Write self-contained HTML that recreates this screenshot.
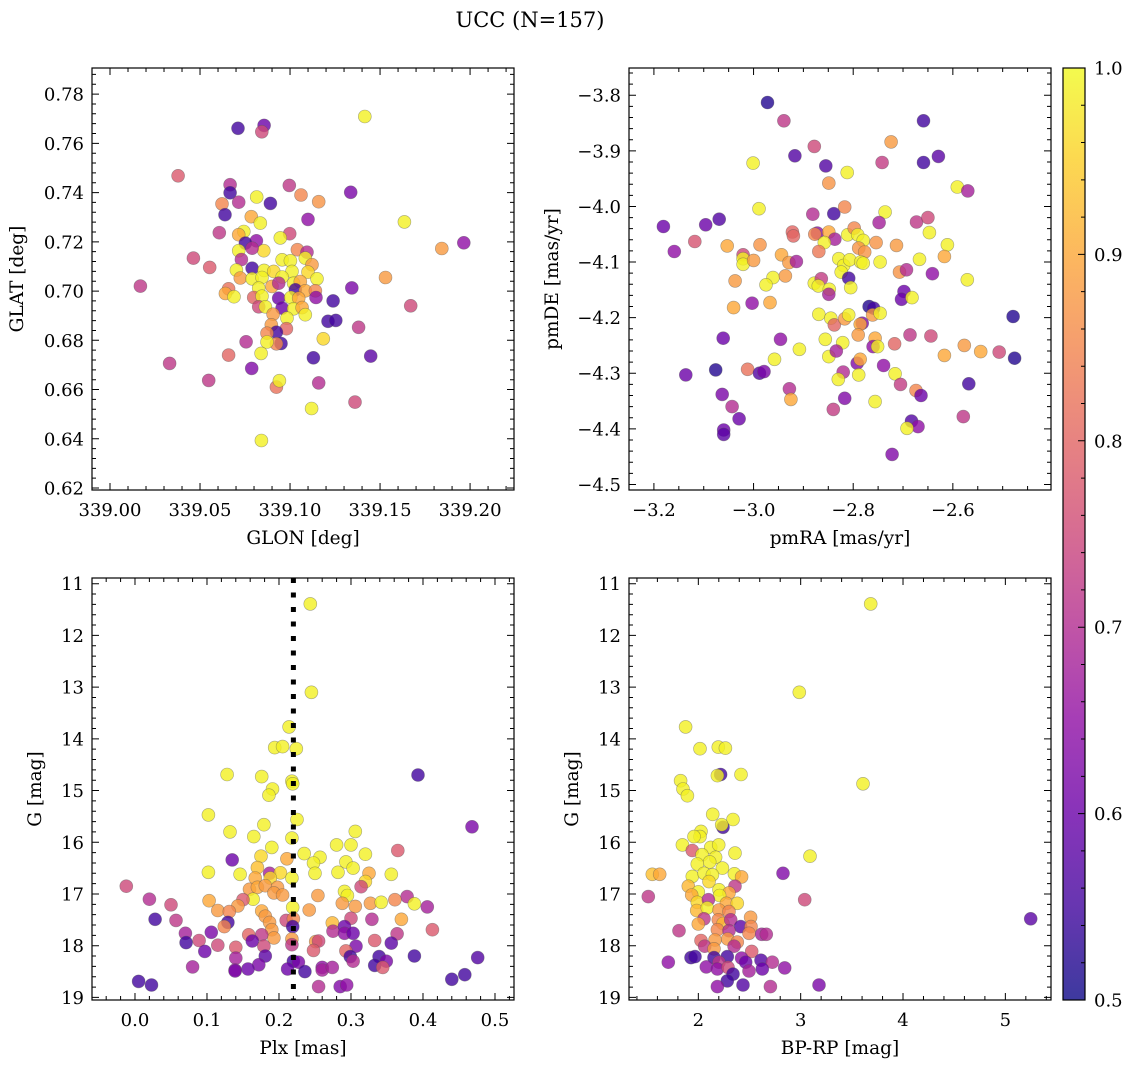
<!DOCTYPE html>
<html><head><meta charset="utf-8">
<style>
html,body{margin:0;padding:0;background:#fff;}
svg{display:block;font-family:"DejaVu Serif","Liberation Serif",serif;}
</style></head>
<body>
<svg id="fig" width="1136" height="1067" viewBox="0 0 1136 1067" xmlns="http://www.w3.org/2000/svg">
<text x="530" y="27" font-size="21" text-anchor="middle">UCC (N=157)</text>
</svg>
<script>
// ---- Panel 1: GLON / GLAT ----
const p1Lon=[339.1415,339.0711,339.0856,339.0843,339.0378,339.0667,339.0667,339.0996,339.1061,339.1159,339.1337,339.0622,339.0715,339.0815,339.0891,339.0639,339.0785,339.0835,339.1100,339.1635,339.0607,339.0743,339.0715,339.0998,339.0946,339.0813,339.0752,339.1965,339.1843,339.0463,339.0715,339.0854,339.0789,339.1041,339.1094,339.0730,339.0956,339.1002,339.1085,339.0554,339.0789,339.0702,339.0856,339.0909,339.1011,339.1122,339.1100,339.0724,339.0789,339.0844,339.0956,339.1020,339.1057,339.1150,339.1530,339.0169,339.0659,339.0641,339.0689,339.0826,339.0900,339.0937,339.1030,339.1085,339.1141,339.0798,339.0844,339.0937,339.1004,339.1048,339.1144,339.1343,339.0826,339.0863,339.0956,339.1020,339.1067,339.1239,339.1670,339.0906,339.0983,339.1085,339.1211,339.1254,339.0896,339.0980,339.1381,339.0924,339.0872,339.1185,339.0756,339.0950,339.0924,339.0872,339.0839,339.0659,339.1130,339.1448,339.0331,339.0787,339.0548,339.0924,339.0941,339.1159,339.1361,339.1120,339.0841];
const p1Lat=[0.7709,0.7661,0.7673,0.7647,0.7468,0.7432,0.7399,0.7429,0.7390,0.7363,0.7401,0.7354,0.7361,0.7382,0.7356,0.7310,0.7302,0.7276,0.7291,0.7281,0.7237,0.7242,0.7229,0.7233,0.7216,0.7204,0.7195,0.7196,0.7173,0.7134,0.7164,0.7164,0.7174,0.7168,0.7158,0.7128,0.7127,0.7123,0.7134,0.7096,0.7093,0.7085,0.7084,0.7080,0.7080,0.7107,0.7077,0.7053,0.7050,0.7055,0.7057,0.7032,0.7039,0.7050,0.7055,0.7020,0.7009,0.6990,0.6977,0.7012,0.7019,0.7032,0.7005,0.7001,0.7001,0.6974,0.6979,0.6971,0.6974,0.6971,0.6974,0.7013,0.6936,0.6936,0.6931,0.6928,0.6933,0.6960,0.6940,0.6906,0.6890,0.6904,0.6877,0.6881,0.6863,0.6847,0.6853,0.6833,0.6829,0.6806,0.6794,0.6787,0.6786,0.6793,0.6747,0.6740,0.6729,0.6736,0.6706,0.6686,0.6637,0.6610,0.6636,0.6627,0.6549,0.6523,0.6393];
const p1C=[0.99,0.55,0.6,0.75,0.78,0.7,0.55,0.72,0.85,0.87,0.62,0.85,0.7,0.99,0.55,0.55,0.9,0.99,0.65,0.99,0.72,0.99,0.9,0.75,0.99,0.65,0.55,0.65,0.88,0.75,0.99,0.96,0.7,0.85,0.7,0.7,0.99,0.99,0.99,0.78,0.55,0.99,0.99,0.96,0.99,0.88,0.96,0.88,0.99,0.99,0.99,0.99,0.9,0.99,0.88,0.72,0.82,0.9,0.99,0.99,0.9,0.7,0.55,0.9,0.85,0.8,0.99,0.6,0.99,0.9,0.65,0.62,0.75,0.99,0.6,0.99,0.9,0.55,0.75,0.88,0.99,0.99,0.55,0.55,0.88,0.8,0.72,0.55,0.85,0.96,0.7,0.55,0.85,0.99,0.99,0.8,0.55,0.58,0.72,0.63,0.72,0.82,0.99,0.7,0.75,0.99,0.99];
// ---- Panel 2: pmRA / pmDE ----
const p2RA=[-2.972,-2.939,-2.659,-2.878,-2.724,-2.917,-2.855,-2.742,-2.659,-2.629,-3.001,-2.812,-2.849,-2.591,-2.570,-2.989,-2.881,-2.839,-2.817,-2.736,-3.181,-3.096,-3.069,-3.159,-3.118,-2.748,-2.673,-2.650,-2.922,-2.920,-2.872,-2.877,-2.849,-2.837,-2.858,-2.811,-2.798,-2.791,-2.780,-2.754,-2.713,-2.647,-2.611,-3.053,-2.987,-2.869,-2.789,-2.777,-3.021,-3.021,-3.021,-3.000,-2.944,-2.929,-2.914,-2.829,-2.819,-2.807,-2.785,-2.780,-2.746,-2.667,-2.617,-2.824,-2.809,-2.707,-2.693,-2.641,-2.571,-3.037,-2.961,-2.975,-2.936,-2.878,-2.864,-2.870,-2.848,-2.849,-2.805,-2.698,-2.703,-2.682,-3.040,-3.003,-2.967,-2.768,-2.759,-2.761,-2.746,-2.869,-2.845,-2.838,-2.817,-2.809,-2.782,-2.786,-2.790,-3.061,-2.946,-2.856,-2.821,-2.756,-2.760,-2.751,-2.717,-2.686,-2.644,-2.577,-2.544,-2.507,-2.479,-2.476,-2.908,-2.958,-2.849,-2.834,-2.617,-3.136,-3.076,-3.012,-2.988,-2.979,-2.792,-2.786,-2.739,-2.716,-2.820,-2.830,-2.789,-2.705,-2.674,-2.664,-2.568,-3.063,-2.928,-2.925,-2.817,-2.756,-3.043,-3.029,-2.840,-2.579,-3.060,-3.060,-2.683,-2.670,-2.692,-2.722];
const p2DE=[-3.813,-3.846,-3.846,-3.892,-3.884,-3.909,-3.927,-3.921,-3.921,-3.910,-3.922,-3.939,-3.958,-3.965,-3.972,-4.004,-4.014,-4.013,-4.001,-4.010,-4.036,-4.033,-4.023,-4.081,-4.063,-4.029,-4.028,-4.020,-4.046,-4.053,-4.048,-4.050,-4.046,-4.059,-4.065,-4.051,-4.039,-4.051,-4.061,-4.065,-4.070,-4.047,-4.069,-4.071,-4.069,-4.081,-4.075,-4.082,-4.087,-4.094,-4.104,-4.097,-4.087,-4.101,-4.099,-4.094,-4.106,-4.096,-4.100,-4.102,-4.100,-4.095,-4.090,-4.118,-4.129,-4.118,-4.114,-4.121,-4.132,-4.134,-4.128,-4.141,-4.125,-4.138,-4.130,-4.143,-4.149,-4.158,-4.146,-4.153,-4.167,-4.164,-4.182,-4.174,-4.173,-4.180,-4.183,-4.195,-4.192,-4.194,-4.201,-4.213,-4.202,-4.195,-4.210,-4.212,-4.231,-4.237,-4.239,-4.239,-4.245,-4.237,-4.252,-4.252,-4.247,-4.231,-4.233,-4.250,-4.261,-4.262,-4.198,-4.273,-4.257,-4.275,-4.270,-4.260,-4.268,-4.303,-4.294,-4.293,-4.300,-4.297,-4.282,-4.275,-4.286,-4.301,-4.298,-4.311,-4.303,-4.320,-4.331,-4.340,-4.319,-4.338,-4.328,-4.347,-4.345,-4.351,-4.360,-4.382,-4.365,-4.378,-4.402,-4.410,-4.386,-4.396,-4.399,-4.446];
const p2C=[0.52,0.72,0.55,0.75,0.88,0.57,0.57,0.73,0.55,0.58,0.99,0.99,0.87,0.99,0.68,0.99,0.7,0.55,0.85,0.99,0.6,0.6,0.57,0.65,0.77,0.68,0.72,0.75,0.8,0.8,0.65,0.85,0.9,0.68,0.99,0.99,0.85,0.99,0.99,0.87,0.88,0.99,0.99,0.9,0.87,0.83,0.87,0.87,0.75,0.99,0.99,0.88,0.9,0.88,0.68,0.99,0.99,0.99,0.99,0.99,0.99,0.99,0.9,0.99,0.55,0.87,0.7,0.65,0.99,0.88,0.99,0.99,0.88,0.99,0.73,0.99,0.99,0.68,0.99,0.6,0.6,0.99,0.9,0.65,0.9,0.52,0.55,0.88,0.99,0.99,0.99,0.8,0.88,0.99,0.63,0.9,0.88,0.6,0.65,0.99,0.99,0.9,0.65,0.99,0.8,0.72,0.75,0.88,0.9,0.75,0.52,0.52,0.99,0.99,0.99,0.68,0.9,0.6,0.52,0.82,0.57,0.62,0.63,0.9,0.65,0.99,0.7,0.99,0.99,0.73,0.85,0.6,0.55,0.62,0.7,0.9,0.63,0.99,0.7,0.6,0.73,0.72,0.6,0.58,0.57,0.65,0.99,0.63];
// ---- Panel 3: Plx / G ----
const p3Plx=[0.2435,0.245,0.214,0.194,0.205,0.224,0.128,0.176,0.191,0.186,0.218,0.219,0.393,0.102,0.225,0.179,0.132,0.165,0.218,0.306,0.468,0.190,0.280,0.300,0.365,0.235,0.257,0.320,0.135,0.175,0.211,0.248,0.293,0.303,0.170,0.102,0.146,0.187,0.202,0.250,0.282,0.325,0.356,0.167,0.188,0.218,0.320,-0.012,0.314,0.159,0.170,0.181,0.198,0.193,0.205,0.291,0.295,0.254,0.378,0.020,0.164,0.150,0.050,0.103,0.143,0.288,0.306,0.327,0.342,0.361,0.388,0.406,0.219,0.242,0.115,0.131,0.176,0.181,0.028,0.057,0.129,0.124,0.187,0.210,0.220,0.219,0.190,0.274,0.300,0.329,0.370,0.413,0.070,0.106,0.275,0.291,0.291,0.303,0.364,0.193,0.158,0.176,0.218,0.089,0.071,0.115,0.163,0.251,0.255,0.248,0.333,0.356,0.097,0.140,0.179,0.218,0.307,0.293,0.140,0.181,0.172,0.220,0.227,0.299,0.303,0.339,0.349,0.333,0.344,0.388,0.476,0.080,0.139,0.139,0.157,0.212,0.236,0.260,0.260,0.274,0.005,0.023,0.255,0.285,0.294,0.440,0.458];
const p3G=[11.39,13.10,13.77,14.17,14.15,14.19,14.69,14.73,14.97,15.09,14.82,14.87,14.70,15.47,15.56,15.66,15.80,15.89,15.92,15.79,15.70,16.10,16.05,16.05,16.16,16.22,16.29,16.23,16.34,16.27,16.32,16.40,16.38,16.50,16.49,16.58,16.62,16.60,16.59,16.60,16.58,16.60,16.62,16.69,16.69,16.69,16.76,16.85,16.86,16.91,16.87,16.84,16.87,16.98,17.02,16.95,17.03,17.03,17.05,17.10,17.10,17.11,17.21,17.13,17.23,17.18,17.24,17.18,17.16,17.11,17.19,17.25,17.26,17.31,17.32,17.34,17.33,17.43,17.49,17.51,17.55,17.63,17.55,17.51,17.48,17.63,17.69,17.56,17.47,17.49,17.49,17.69,17.76,17.74,17.72,17.63,17.76,17.76,17.77,17.85,17.79,17.79,17.87,17.90,17.94,17.99,17.91,17.92,17.91,18.09,17.90,17.95,18.11,18.03,18.01,17.98,18.01,18.10,18.24,18.20,18.37,18.30,18.32,18.21,18.30,18.21,18.30,18.38,18.42,18.20,18.23,18.41,18.47,18.49,18.45,18.45,18.50,18.42,18.47,18.42,18.69,18.76,18.79,18.79,18.76,18.65,18.56];
const p3C=[0.99,0.99,0.99,0.99,0.99,0.99,0.99,0.99,0.99,0.99,0.99,0.99,0.55,0.99,0.99,0.99,0.99,0.99,0.99,0.99,0.62,0.99,0.99,0.99,0.78,0.99,0.99,0.99,0.6,0.96,0.9,0.99,0.99,0.99,0.93,0.99,0.99,0.68,0.96,0.99,0.99,0.9,0.99,0.9,0.96,0.99,0.96,0.75,0.75,0.88,0.9,0.88,0.88,0.88,0.88,0.99,0.99,0.88,0.7,0.7,0.99,0.78,0.75,0.9,0.88,0.88,0.88,0.88,0.99,0.85,0.99,0.68,0.99,0.88,0.88,0.85,0.9,0.88,0.55,0.72,0.55,0.85,0.88,0.75,0.85,0.55,0.88,0.92,0.75,0.7,0.9,0.78,0.68,0.62,0.7,0.6,0.65,0.6,0.72,0.88,0.8,0.72,0.88,0.75,0.55,0.75,0.6,0.88,0.75,0.78,0.78,0.58,0.6,0.78,0.75,0.72,0.62,0.8,0.68,0.58,0.62,0.55,0.62,0.55,0.7,0.55,0.62,0.55,0.78,0.55,0.57,0.68,0.65,0.62,0.6,0.6,0.55,0.65,0.68,0.68,0.55,0.55,0.7,0.63,0.65,0.55,0.55];
// ---- Panel 4: BP-RP / G ----
const p4BR=[3.684,2.987,1.876,2.016,2.195,2.264,2.218,2.186,2.417,3.609,1.827,1.850,1.893,2.140,2.339,2.241,2.228,2.026,2.016,1.958,1.844,1.941,2.121,2.199,2.358,3.091,2.036,2.169,2.111,1.990,2.235,1.550,1.622,2.827,1.941,2.055,2.137,2.352,2.423,1.902,2.104,2.358,2.000,2.202,2.300,2.208,1.511,3.039,1.935,1.990,2.098,2.274,2.381,1.984,2.088,2.202,2.300,2.511,2.055,2.000,2.195,2.241,2.316,2.414,2.515,1.811,2.186,2.300,2.495,2.619,2.664,2.026,2.163,2.287,2.381,2.062,2.153,2.349,2.521,1.928,1.967,1.707,2.153,2.283,2.423,2.463,2.612,2.723,2.202,2.078,2.186,2.290,2.495,2.625,2.844,2.339,2.283,2.186,2.436,2.704,3.179,5.248];
const p4G=[11.39,13.10,13.77,14.19,14.16,14.18,14.69,14.71,14.69,14.87,14.81,14.97,15.10,15.46,15.56,15.71,15.66,15.79,15.89,15.89,16.05,16.16,16.10,16.05,16.21,16.27,16.24,16.29,16.38,16.42,16.50,16.62,16.62,16.60,16.66,16.60,16.63,16.61,16.67,16.85,16.76,16.85,16.96,16.92,16.98,17.03,17.05,17.11,17.02,17.16,17.11,17.18,17.18,17.32,17.27,17.31,17.34,17.45,17.48,17.58,17.50,17.57,17.50,17.63,17.63,17.71,17.69,17.71,17.76,17.78,17.78,17.90,17.89,17.87,17.93,18.01,18.06,18.01,18.11,18.23,18.21,18.32,18.23,18.21,18.24,18.32,18.28,18.32,18.32,18.41,18.45,18.42,18.49,18.45,18.43,18.55,18.68,18.79,18.76,18.79,18.76,17.48];
const p4C=[0.99,0.99,0.99,0.99,0.99,0.99,0.55,0.99,0.99,0.99,0.99,0.99,0.99,0.99,0.99,0.55,0.99,0.99,0.99,0.99,0.99,0.78,0.99,0.99,0.99,0.99,0.99,0.99,0.99,0.99,0.99,0.93,0.9,0.63,0.99,0.99,0.99,0.99,0.9,0.92,0.96,0.72,0.99,0.99,0.9,0.99,0.72,0.75,0.9,0.96,0.7,0.9,0.96,0.92,0.99,0.88,0.85,0.88,0.72,0.9,0.85,0.92,0.7,0.58,0.85,0.72,0.85,0.7,0.85,0.68,0.7,0.8,0.88,0.88,0.85,0.72,0.88,0.7,0.78,0.55,0.55,0.65,0.55,0.55,0.65,0.6,0.57,0.7,0.72,0.65,0.65,0.75,0.68,0.6,0.65,0.55,0.55,0.65,0.57,0.7,0.62,0.58];
// Tick label arrays
const p1XTicks=[339.00,339.05,339.10,339.15,339.20];
const p1YTicks=[0.62,0.64,0.66,0.68,0.70,0.72,0.74,0.76,0.78];
const p2XTicks=[-3.2,-3.0,-2.8,-2.6];
const p2YTicks=[-4.5,-4.4,-4.3,-4.2,-4.1,-4.0,-3.9,-3.8];
const p3XTicks=[0.0,0.1,0.2,0.3,0.4,0.5];
const gTicks=[11,12,13,14,15,16,17,18,19];
const p4XTicks=[2,3,4,5];
const cbTicks=[0.5,0.6,0.7,0.8,0.9,1.0];
const plxLine=[0.22];

const NS="http://www.w3.org/2000/svg";
const svg=document.getElementById('fig');
function mk(tag,attrs,parent){const e=document.createElementNS(NS,tag);for(const k in attrs)e.setAttribute(k,attrs[k]);(parent||svg).appendChild(e);return e;}
const stops=[[13,8,135],[65,4,157],[106,0,168],[143,13,164],[177,42,144],[204,71,120],[225,100,98],[242,132,75],[252,166,54],[252,206,37],[240,249,33]];
function plasma(t){t=Math.max(0,Math.min(1,t));const f=t*10;const i=Math.min(9,Math.floor(f));const r=f-i;const a=stops[i],b=stops[i+1];return 'rgb('+a.map((v,k)=>Math.round(v+(b[k]-v)*r)).join(',')+')';}
function cmap(v){return plasma((v-0.5)/0.5);}
function fmt(v,d){const s=Math.abs(v).toFixed(d);return (v<0?'\u2212':'')+s;}

function panel(cfg){
  const g=mk('g',{});
  
  
  const {x0,y0,w,h,xmin,xmax,ymin,ymax,invY}=cfg;
  const sx=v=>x0+(v-xmin)/(xmax-xmin)*w;
  const sy=invY?(v=>y0+(v-ymin)/(ymax-ymin)*h):(v=>y0+h-(v-ymin)/(ymax-ymin)*h);
  const pg=mk('g',{},g);
  
  
  for(let i=0;i<cfg.xs.length;i++){
    const c=mk('circle',{cx:sx(cfg.xs[i]).toFixed(1),cy:sy(cfg.ys[i]).toFixed(1),r:6.5,fill:cmap(cfg.cs[i]),'fill-opacity':0.8,stroke:'#555','stroke-opacity':0.5,'stroke-width':0.6},pg);
    
    
  }
  if(cfg.vline){
    for(const v of cfg.vline){
      const l=mk('line',{x1:sx(v),x2:sx(v),y1:y0,y2:y0+h,stroke:'#000','stroke-width':5,'stroke-dasharray':'5,9.5'},g);
      
      
    }
  }
  const fr=mk('rect',{x:x0,y:y0,width:w,height:h,fill:'none',stroke:'#000','stroke-width':1.2},g);
  
  
  let tp='';
  const eps=1e-9;
  for(let v=Math.ceil(xmin/cfg.xminor-eps)*cfg.xminor;v<=xmax+eps;v+=cfg.xminor){
    const isMaj=Math.abs(v/cfg.xmajor-Math.round(v/cfg.xmajor))<1e-6;const L=isMaj?7:4;const X=sx(v);
    tp+=`M${X},${y0+h}v${-L}M${X},${y0}v${L}`;
  }
  for(let v=Math.ceil(Math.min(ymin,ymax)/cfg.yminor-eps)*cfg.yminor;v<=Math.max(ymin,ymax)+eps;v+=cfg.yminor){
    const isMaj=Math.abs(v/cfg.ymajor-Math.round(v/cfg.ymajor))<1e-6;const L=isMaj?7:4;const Y=sy(v);
    tp+=`M${x0},${Y}h${L}M${x0+w},${Y}h${-L}`;
  }
  mk('path',{d:tp,stroke:'#000','stroke-width':1,fill:'none'},g);
  for(const v of cfg.xticks){
    const t=mk('text',{x:sx(v),y:y0+h+26,'font-size':18,'text-anchor':'middle'},g);
    t.textContent=fmt(v,cfg.xd);
    
    
  }
  for(const v of cfg.yticks){
    const t=mk('text',{x:x0-8,y:sy(v)+6.5,'font-size':18,'text-anchor':'end'},g);
    t.textContent=fmt(v,cfg.yd);
    
    
  }
  const xl=mk('text',{x:x0+w/2,y:y0+h+54,'font-size':18.5,'text-anchor':'middle'},g);
  xl.textContent=cfg.xlabel;
  
  
  const yl=mk('text',{x:cfg.ylx,y:y0+h/2,'font-size':18.5,'text-anchor':'middle',transform:`rotate(-90 ${cfg.ylx} ${y0+h/2})`},g);
  yl.textContent=cfg.ylabel;
  
  
}

panel({name:'glon-glat-panel',x0:92,y0:68,w:422,h:422,xmin:338.990,xmax:339.2244,ymin:0.6192,ymax:0.7906,xs:p1Lon,ys:p1Lat,cs:p1C,xmajor:0.05,xminor:0.01,ymajor:0.02,yminor:0.004,xticks:p1XTicks,yticks:p1YTicks,xd:2,yd:2,xlabel:'GLON [deg]',ylabel:'GLAT [deg]',ylx:23});
panel({name:'pm-panel',x0:629,y0:68,w:422,h:422,xmin:-3.250,xmax:-2.403,ymin:-4.510,ymax:-3.751,xs:p2RA,ys:p2DE,cs:p2C,xmajor:0.2,xminor:0.05,ymajor:0.1,yminor:0.02,xticks:p2XTicks,yticks:p2YTicks,xd:1,yd:1,xlabel:'pmRA [mas/yr]',ylabel:'pmDE [mas/yr]',ylx:558});
panel({name:'plx-g-panel',x0:92,y0:578,w:422,h:422,xmin:-0.0597,xmax:0.5264,ymin:10.89,ymax:19.05,invY:true,xs:p3Plx,ys:p3G,cs:p3C,xmajor:0.1,xminor:0.02,ymajor:1,yminor:0.2,xticks:p3XTicks,yticks:gTicks,xd:1,yd:0,xlabel:'Plx [mas]',ylabel:'G [mag]',ylx:41});
panel({name:'cmd-panel',x0:629,y0:578,w:422,h:422,xmin:1.3225,xmax:5.446,ymin:10.89,ymax:19.05,invY:true,xs:p4BR,ys:p4G,cs:p4C,xmajor:1,xminor:0.2,ymajor:1,yminor:0.2,xticks:p4XTicks,yticks:gTicks,xd:0,yd:0,xlabel:'BP-RP [mag]',ylabel:'G [mag]',ylx:578});
// vertical line added for plx panel
(function(){
  const x0=92,w=422,xmin=-0.0597,xmax=0.5264;
  const X=x0+(plxLine[0]-xmin)/(xmax-xmin)*w;
  const l=mk('line',{x1:X,x2:X,y1:578,y2:1000,stroke:'#000','stroke-width':5,'stroke-dasharray':'5,9.5'});
  
  
})();

// colorbar
(function(){
  const cx=1063,cy=68,cw=22,ch=932;
  const cg=mk('g',{});
  
  
  const defs=mk('defs',{},cg);
  const lg=mk('linearGradient',{id:'cbg',x1:0,y1:1,x2:0,y2:0},defs);
  for(let i=0;i<=20;i++){mk('stop',{offset:i/20,'stop-color':plasma(i/20),'stop-opacity':0.8},lg);}
  mk('rect',{x:cx,y:cy,width:cw,height:ch,fill:'url(#cbg)',stroke:'#000','stroke-width':1.2},cg);
  const sy=v=>cy+ch-(v-0.5)/0.5*ch;
  let d='';
  for(let v=0.5;v<=1.0001;v+=0.02){const maj=Math.abs(v*10-Math.round(v*10))<1e-6;d+=`M${cx+cw},${sy(v)}h${maj?-7:-4}`;}
  mk('path',{d:d,stroke:'#000','stroke-width':1},cg);
  for(const v of cbTicks){
    const t=mk('text',{x:cx+cw+9,y:sy(v)+6.5,'font-size':18},cg);
    t.textContent=v.toFixed(1);
    
    
  }
})();
</script>
</body></html>
